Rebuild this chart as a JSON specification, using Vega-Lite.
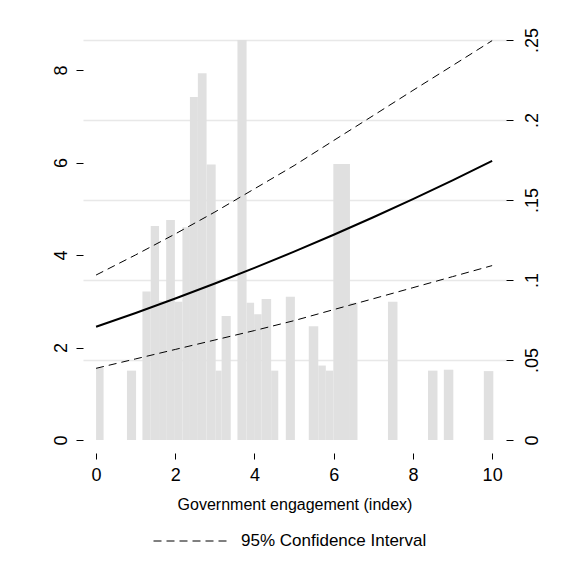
{
  "$schema": "https://vega.github.io/schema/vega-lite/v6.json",
  "width": 423,
  "height": 400,
  "autosize": {"type": "none"},
  "padding": {"left": 83, "top": 40, "right": 74, "bottom": 143},
  "background": "white",
  "config": {
    "view": {"stroke": null},
    "font": "Liberation Sans",
    "axis": {
      "domain": false,
      "grid": false,
      "tickColor": "#000",
      "tickWidth": 1,
      "labelColor": "#000",
      "titleColor": "#000",
      "labelFont": "Liberation Sans",
      "titleFont": "Liberation Sans",
      "titleFontWeight": "normal",
      "labelFontSize": 18
    }
  },
  "datasets": {
    "hist": [
      {"x0": 0.0, "x1": 0.19, "pct": 1.56},
      {"x0": 0.78, "x1": 1.01, "pct": 1.5},
      {"x0": 1.17, "x1": 1.38, "pct": 3.21},
      {"x0": 1.38, "x1": 1.59, "pct": 4.63},
      {"x0": 1.59, "x1": 1.77, "pct": 3.0},
      {"x0": 1.77, "x1": 1.99, "pct": 4.76},
      {"x0": 1.99, "x1": 2.18, "pct": 2.99},
      {"x0": 2.18, "x1": 2.37, "pct": 4.6},
      {"x0": 2.37, "x1": 2.57, "pct": 7.42},
      {"x0": 2.57, "x1": 2.79, "pct": 7.93},
      {"x0": 2.79, "x1": 3.02, "pct": 5.96},
      {"x0": 3.02, "x1": 3.17, "pct": 1.5},
      {"x0": 3.17, "x1": 3.4, "pct": 2.68},
      {"x0": 3.57, "x1": 3.8, "pct": 9.4},
      {"x0": 3.8, "x1": 3.99, "pct": 2.97},
      {"x0": 3.99, "x1": 4.18, "pct": 2.72},
      {"x0": 4.18, "x1": 4.42, "pct": 3.05},
      {"x0": 4.42, "x1": 4.6, "pct": 1.5},
      {"x0": 4.79, "x1": 5.02, "pct": 3.1},
      {"x0": 5.37, "x1": 5.61, "pct": 2.46},
      {"x0": 5.61, "x1": 5.8, "pct": 1.61},
      {"x0": 5.8, "x1": 5.99, "pct": 1.5},
      {"x0": 5.99, "x1": 6.41, "pct": 5.97},
      {"x0": 6.41, "x1": 6.6, "pct": 2.97},
      {"x0": 7.37, "x1": 7.61, "pct": 2.99},
      {"x0": 8.38, "x1": 8.62, "pct": 1.5},
      {"x0": 8.78, "x1": 9.02, "pct": 1.52},
      {"x0": 9.79, "x1": 10.03, "pct": 1.49}
    ],
    "fit": [
      {"x": 0, "est": 0.0708},
      {"x": 1, "est": 0.0794},
      {"x": 2, "est": 0.0884},
      {"x": 3, "est": 0.0978},
      {"x": 4, "est": 0.1076},
      {"x": 5, "est": 0.1177},
      {"x": 6, "est": 0.1283},
      {"x": 7, "est": 0.1392},
      {"x": 8, "est": 0.1506},
      {"x": 9, "est": 0.1623},
      {"x": 10, "est": 0.1744}
    ],
    "ci": [
      {"x": 0, "value": 0.1031, "bound": "hi", "band": "95% Confidence Interval"},
      {"x": 1, "value": 0.1157, "bound": "hi", "band": "95% Confidence Interval"},
      {"x": 2, "value": 0.1288, "bound": "hi", "band": "95% Confidence Interval"},
      {"x": 3, "value": 0.1425, "bound": "hi", "band": "95% Confidence Interval"},
      {"x": 4, "value": 0.157, "bound": "hi", "band": "95% Confidence Interval"},
      {"x": 5, "value": 0.1715, "bound": "hi", "band": "95% Confidence Interval"},
      {"x": 6, "value": 0.1872, "bound": "hi", "band": "95% Confidence Interval"},
      {"x": 7, "value": 0.2028, "bound": "hi", "band": "95% Confidence Interval"},
      {"x": 8, "value": 0.2185, "bound": "hi", "band": "95% Confidence Interval"},
      {"x": 9, "value": 0.234, "bound": "hi", "band": "95% Confidence Interval"},
      {"x": 10, "value": 0.2496, "bound": "hi", "band": "95% Confidence Interval"},
      {"x": 0, "value": 0.0448, "bound": "lo", "band": "95% Confidence Interval"},
      {"x": 1, "value": 0.0507, "bound": "lo", "band": "95% Confidence Interval"},
      {"x": 2, "value": 0.0566, "bound": "lo", "band": "95% Confidence Interval"},
      {"x": 3, "value": 0.0625, "bound": "lo", "band": "95% Confidence Interval"},
      {"x": 4, "value": 0.0684, "bound": "lo", "band": "95% Confidence Interval"},
      {"x": 5, "value": 0.0746, "bound": "lo", "band": "95% Confidence Interval"},
      {"x": 6, "value": 0.0815, "bound": "lo", "band": "95% Confidence Interval"},
      {"x": 7, "value": 0.0883, "bound": "lo", "band": "95% Confidence Interval"},
      {"x": 8, "value": 0.0952, "bound": "lo", "band": "95% Confidence Interval"},
      {"x": 9, "value": 0.1021, "bound": "lo", "band": "95% Confidence Interval"},
      {"x": 10, "value": 0.109, "bound": "lo", "band": "95% Confidence Interval"}
    ]
  },
  "layer": [
    {
      "data": {"name": "hist"},
      "mark": {"type": "rect", "color": "#e0e0e0", "clip": true},
      "encoding": {
        "x": {
          "field": "x0", "type": "quantitative",
          "scale": {"domain": [-0.33, 10.35], "nice": false, "zero": false},
          "axis": {
            "values": [0, 2, 4, 6, 8, 10],
            "offset": 13,
            "tickSize": 6,
            "labelBaseline": "alphabetic",
            "labelPadding": 21,
            "title": "Government engagement (index)",
            "titleFontSize": 16,
            "titlePadding": 12
          }
        },
        "x2": {"field": "x1"},
        "y": {
          "field": "pct", "type": "quantitative",
          "scale": {"domain": [0, 8.65], "nice": false},
          "axis": {
            "orient": "left",
            "values": [0, 2, 4, 6, 8],
            "tickSize": 7,
            "labelAngle": -90,
            "labelAlign": "center",
            "labelBaseline": "alphabetic",
            "labelPadding": 10,
            "title": null
          }
        },
        "y2": {"datum": 0}
      }
    },
    {
      "layer": [
        {
          "data": {"name": "ci"},
          "mark": {"type": "line", "strokeWidth": 1, "color": "#000"},
          "encoding": {
            "x": {"field": "x", "type": "quantitative"},
            "y": {
              "field": "value", "type": "quantitative",
              "scale": {"domain": [0, 0.25], "nice": false},
              "axis": {
                "orient": "right",
                "values": [0, 0.05, 0.1, 0.15, 0.2, 0.25],
                "labelExpr": "datum.value == 0 ? '0' : slice(format(datum.value, '.2~f'), 1)",
                "tickSize": 7,
                "labelAngle": -90,
                "labelAlign": "center",
                "labelBaseline": "alphabetic",
                "labelPadding": 24,
                "grid": true,
                "gridColor": "#e8e8e8",
                "gridWidth": 1.5,
                "gridOpacity": {"condition": {"test": "datum.value === 0", "value": 0}, "value": 1},
                "title": null
              }
            },
            "strokeDash": {
              "field": "band", "type": "nominal",
              "scale": {"range": [[8, 5]]},
              "legend": {
                "title": null,
                "orient": "none",
                "legendX": 70,
                "legendY": 463,
                "padding": 0,
                "symbolType": "stroke",
                "symbolSize": 5625,
                "symbolStrokeWidth": 1,
                "symbolStrokeColor": "#000",
                "labelFontSize": 17,
                "labelOffset": 12,
                "labelLimit": 0,
                "labelColor": "#000",
                "labelFont": "Liberation Sans"
              }
            },
            "detail": {"field": "bound"}
          }
        },
        {
          "data": {"name": "fit"},
          "mark": {"type": "line", "strokeWidth": 2, "color": "#000"},
          "encoding": {
            "x": {"field": "x", "type": "quantitative"},
            "y": {"field": "est", "type": "quantitative"}
          }
        }
      ]
    }
  ],
  "resolve": {"scale": {"y": "independent"}}
}
